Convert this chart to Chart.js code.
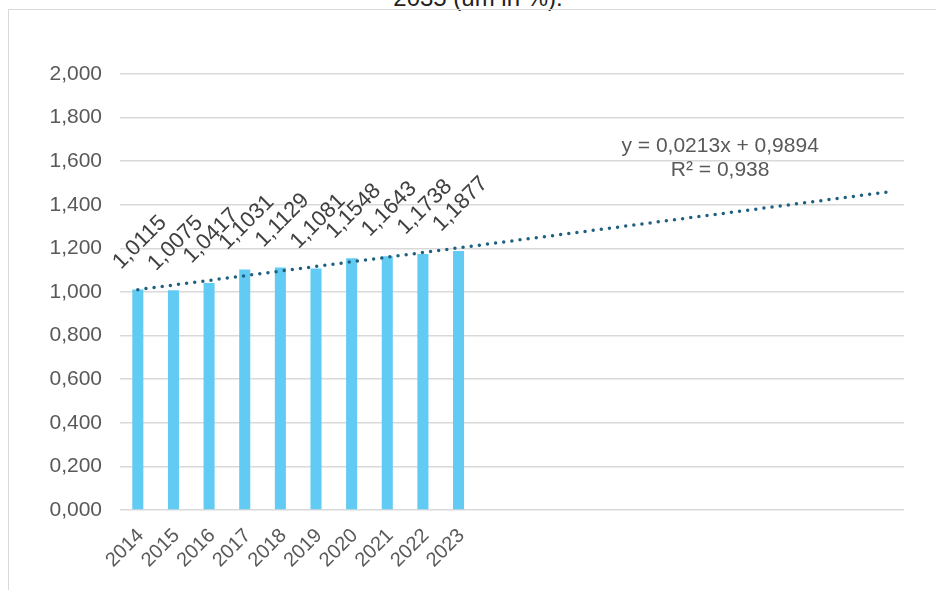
<!DOCTYPE html>
<html><head><meta charset="utf-8">
<script src="https://cdn.jsdelivr.net/npm/chart.js@4/dist/chart.umd.min.js"></script>
<style>
html,body{margin:0;padding:0;background:#fff;overflow:hidden;width:936px;height:590px;}
#wrap{position:relative;width:936px;height:590px;overflow:hidden;}
#frame{position:absolute;left:8px;top:9px;width:940px;height:600px;border-left:1.5px solid #D9D9D9;border-top:1.5px solid #D9D9D9;}
#title{position:absolute;left:0;top:-14.5px;width:956px;text-align:center;font-family:"Liberation Sans",Arial,sans-serif;font-size:24px;line-height:24px;color:#222;white-space:nowrap;}
canvas{position:absolute;left:0;top:0;}
</style></head>
<body>
<div id="wrap">
  <div id="title">2035 (um in %).</div>
  <div id="frame"></div>
  <canvas id="c" width="936" height="590"></canvas>
</div>
<script>
// ---- data ----
const years = ['2014','2015','2016','2017','2018','2019','2020','2021','2022','2023'];
const forecastYears = ['2024','2025','2026','2027','2028','2029','2030','2031','2032','2033','2034','2035'];
const values = [1.0115, 1.0075, 1.0417, 1.1031, 1.1129, 1.1081, 1.1548, 1.1643, 1.1738, 1.1877];
const trendStart = 1.0107;   // trend value at 2014
const trendEnd = 1.4580;     // trend value at 2035
const trendEquation = 'y = 0,0213x + 0,9894';
const trendR2 = 'R² = 0,938';

// ---- build ----
const categories = years.concat(forecastYears);
const barData = categories.map((c, i) => i < values.length ? values[i] : null);
const trendData = categories.map((c, i) => i === 0 ? trendStart : (i === categories.length - 1 ? trendEnd : null));

const FONT = '"Liberation Sans", Arial, sans-serif';
Chart.defaults.font.family = FONT;

const labelPlugin = {
  id: 'customLabels',
  afterDatasetsDraw(chart) {
    const ctx = chart.ctx;
    const meta = chart.getDatasetMeta(0);
    ctx.save();
    ctx.font = '22px ' + FONT;
    ctx.fillStyle = '#404040';
    ctx.textAlign = 'center';
    ctx.textBaseline = 'middle';
    meta.data.forEach((bar, i) => {
      const v = values[i];
      if (v == null) return;
      ctx.save();
      ctx.translate(bar.x + 2, bar.y - 47);
      ctx.rotate(-Math.PI / 4);
      ctx.fillText(v.toFixed(4).replace('.', ','), 0, 0);
      ctx.restore();
    });
    // trendline equation
    const area = chart.chartArea;
    const ys = chart.scales.y;
    const cx = area.left + area.width * 0.7655;
    const by = ys.getPixelForValue(1.64);
    ctx.font = '21px ' + FONT;
    ctx.fillStyle = '#595959';
    ctx.textBaseline = 'alphabetic';
    ctx.fillText(trendEquation, cx, by);
    ctx.fillText(trendR2, cx, by + 24);
    ctx.restore();
  }
};

new Chart(document.getElementById('c'), {
  data: {
    labels: categories,
    datasets: [
      {
        type: 'bar',
        data: barData,
        backgroundColor: '#62CBF3',
        categoryPercentage: 1,
        barPercentage: 0.31,
        order: 1
      },
      {
        type: 'line',
        data: trendData,
        spanGaps: true,
        borderColor: '#1F6080',
        borderWidth: 3.5,
        borderDash: [0, 8.2],
        borderCapStyle: 'round',
        pointRadius: 0,
        fill: false,
        order: 0
      }
    ]
  },
  options: {
    responsive: false,
    devicePixelRatio: 1,
    animation: false,
    layout: { padding: { top: 74, right: 32, bottom: 0, left: 0 } },
    plugins: { legend: { display: false }, tooltip: { enabled: false }, title: { display: false } },
    scales: {
      x: {
        grid: { display: false },
        border: { display: false },
        ticks: {
          autoSkip: false, maxRotation: 45, minRotation: 45, padding: 6, labelOffset: 3,
          color: '#595959', font: { size: 20 },
          callback(v, i) { return i < years.length ? this.getLabelForValue(v) : ''; }
        },
        afterFit(s) { s.height = 80; }
      },
      y: {
        min: 0, max: 2,
        ticks: {
          stepSize: 0.2, padding: 18, color: '#595959', font: { size: 21 },
          callback: v => Number(v).toFixed(3).replace('.', ',')
        },
        grid: { color: '#D9D9D9', lineWidth: 1.5, drawTicks: false },
        border: { display: false },
        afterFit(s) { s.width = 120; }
      }
    }
  },
  plugins: [labelPlugin]
});
</script>
</body></html>
